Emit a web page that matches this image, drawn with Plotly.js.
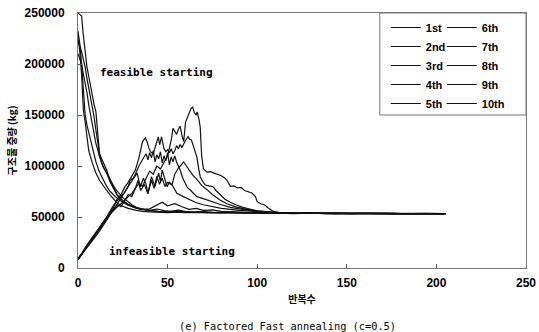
<!DOCTYPE html>
<html>
<head>
<meta charset="utf-8">
<script src="https://cdn.plot.ly/plotly-3.0.1.min.js"></script>
<style>html,body{margin:0;padding:0;background:#fff;}#chart{width:539px;height:332px;}</style>
</head>
<body>
<div id="chart"></div>
<script>
// ---- data ----
const seriesNames = ['1st','2nd','3rd','4th','5th','6th','7th','8th','9th','10th'];

// feasible starting runs
const x1st = [0,1,2,3,4,5,6,8,10,12,14,16,18,20,22,25,28,32,36,40,45,50,55,60,66,72,80,88,96,104,112,120,130,140,150,160,170,180,190,200,205];
const y1st = [227000,212000,190000,155000,143000,130000,115000,103000,93000,86000,80500,76000,71500,67000,63500,60500,58500,56800,55500,55000,54600,54300,54800,54200,54500,53900,54200,53800,54000,53600,53800,53400,53700,53300,53600,53400,53200,53500,53300,53400,53300];

const x2nd = [0,1,2,3,4,5,6,7,8,10,12,14,16,18,20,22,25,28,32,36,40,45,50,55,60,65,70,78,86,94,102,110,118,126,134,142,150,158,166,174,182,190,198,205];
const y2nd = [232000,220000,200000,170000,150000,140000,133000,126000,117000,104000,94000,87000,80000,75000,71000,68000,64500,61500,59000,57500,56300,55500,55000,56000,55200,54600,54900,54200,54500,53900,54100,53600,53900,53500,53700,53300,53600,53200,53500,53300,53600,53200,53400,53300];

const x3rd = [0,2,3,4,5,6,7,8,9,10,11,12,13,14,16,18,20,22,25,28,32,36,40,45,50,56,62,68,75,82,90,98,106,114,122,130,138,146,154,162,170,178,186,194,205];
const y3rd = [250000,247000,228000,210000,197000,188000,178000,168000,160000,153000,128000,112000,104000,99000,93000,84000,77500,71000,66000,62500,59500,57500,56200,55300,54800,55400,54600,54900,54300,54600,54000,54300,53800,54000,53500,53800,53300,53600,53400,53700,53200,53500,53300,53500,53300];

const x4th = [0,1,2,3,4,5,6,7,8,9,10,11,12,14,16,18,20,22,25,28,31,35,40,44,48,52,56,60,65,70,76,84,92,100,108,116,124,132,140,148,156,164,172,180,188,196,205];
const y4th = [222000,218000,212000,205000,197000,186000,176000,170000,160000,148000,135000,122000,112000,104000,96000,85000,78000,71500,66000,62000,59500,57500,56500,57800,56200,55500,56800,55300,54800,55200,54400,54700,54100,54300,53700,54000,53500,53800,53300,53600,53200,53500,53400,53600,53200,53400,53300];

const x5th = [0,1,2,3,4,5,6,7,8,9,10,11,12,14,16,18,20,22,25,28,30,33,36,40,44,47,50,54,58,62,66,70,75,80,88,96,104,112,120,128,136,144,152,160,168,176,184,192,200,205];
const y5th = [210000,205000,200000,190000,182000,172000,160000,150000,142000,132000,122000,116000,109000,100000,93000,86000,80000,75000,69000,65000,62000,59000,57500,58000,62000,64500,61000,63000,60000,57500,58500,56500,57000,55500,55000,54400,54700,54000,54200,53600,53900,53400,53700,53300,53500,53200,53500,53300,53400,53300];

// infeasible starting runs
const x6th = [0,2,4,6,8,10,12,14,16,18,20,22,24,26,28,30,32,34,36,38,40,42,44,46,48,50,52,53,54,55,56,57,58,59,60,61,62,63,64,65,66,66.5,67.5,68.2,69,70,72,74,76,78,80,82,83,85,87,89,91,93,95,97,99,100,102,104,106,109,112,116,120,128,136,144,152,160,168,176,184,192,200,205];
const y6th = [8000,13500,19000,24000,29500,34000,39000,44000,49500,55000,58000,62000,60000,66000,72000,70000,78000,83000,80000,88000,95000,92000,100000,97000,104000,110000,125000,137000,134000,131000,136000,139000,130000,124000,143000,148000,152000,156000,158000,152000,150000,153000,146000,138000,110000,97000,94000,94500,93000,92000,90500,88000,86500,80000,80500,78500,79000,76000,74500,73500,70000,65000,63000,62000,59000,55500,54500,54000,53700,54000,53500,53800,53300,53600,53200,53500,53300,53400,53300,53400];

const x7th = [0,2,4,6,8,10,12,14,16,18,20,22,24,26,28,30,32,34,35,36,37.6,38.5,39.5,40.4,42,43,44.8,45.6,46.6,48,49,50,51,52,53,54,55,56,57,58,59,60,61.4,62.3,63.3,64.5,66.3,67.3,68.2,69.5,71,73,75.4,77,79.3,82,85,88,92,96,100,105,110,116,124,132,140,148,156,164,172,180,188,196,205];
const y7th = [8000,13000,19000,24000,29000,33500,38000,43000,48000,54000,60000,68000,72000,79000,84000,90000,96000,108000,118000,124000,127500,124000,118000,114000,112000,118000,128500,121000,128500,117000,114000,116000,113000,117000,112000,115000,120000,117000,121000,118000,122000,125000,128700,126000,125500,118000,109000,98000,89500,85000,81400,80500,79700,76000,71600,67500,64500,62000,59500,57500,56000,55000,54200,53900,54100,53600,53800,53300,53600,53200,53500,53300,53500,53200,53300];

const x8th = [0,2,4,6,8,10,12,14,16,18,20,22,24,26,28,30,32,34,36.5,38,39,40,41,42,43,44,45,46,47,48,49,50,51,52,53,54,55,57,58.5,59.8,61,62.6,64.5,66.3,69,72,76,80,85,90,95,100,105,110,117,125,133,141,149,157,165,173,181,189,197,205];
const y8th = [9500,14000,20000,25000,30000,35000,40000,44500,50000,56000,62000,66000,70000,74000,80000,85000,92000,100000,107800,112000,106000,113000,108000,115000,104000,111000,107000,114000,103000,110000,105000,113000,101000,109000,104000,110000,104000,96000,88000,83300,79000,76500,73000,70000,68500,66700,64000,62000,59500,57800,56500,55200,54500,54000,53700,53900,53400,53700,53300,53500,53200,53500,53300,53400,53200,53300];

const x9th = [0,3,6,9,12,15,18,20,22,24,26,28,29.2,31,33,34.8,36.5,38,39,41,43,45,46,47,48,49.7,51,52.5,54,56,57.5,59,60.5,62,64,66.5,69,72,75,79,83,88,94,100,106,112,120,128,136,144,152,160,168,176,184,192,200,205];
const y9th = [8500,15000,22000,29000,36000,44000,52000,58000,63000,68000,74000,80000,86300,88000,93000,79700,88000,82000,73000,89500,80000,93000,85000,96000,90000,79700,84000,81400,92000,98000,101000,104000,100000,96000,91000,86600,81000,76800,72000,67000,63000,60000,57500,56000,55000,54200,53800,54000,53500,53800,53300,53600,53300,53500,53200,53400,53300,53300];

const x10th = [0,3,6,9,12,15,18,20,22,24,26,28,30,32,33.5,35,37,39,41,42.5,44,45.5,47,48.5,50,52.5,55.2,58.8,62.6,66,70,75,80,90,100,110,118,126,134,142,150,158,166,174,182,190,198,205];
const y10th = [9000,16000,23000,30000,37000,45000,53000,57000,60000,63000,66000,70000,73000,78000,86000,76000,82000,73000,86000,78000,90000,82000,88000,80000,84000,81400,73200,70000,66700,64000,62000,60000,58500,56500,55000,54200,53700,54000,53500,53700,53300,53600,53200,53500,53300,53400,53200,53300];

const xTickVals = [0,50,100,150,200,250];
const yTickVals = [0,50000,100000,150000,200000,250000];

// ---- build traces ----
const xs = [x1st,x2nd,x3rd,x4th,x5th,x6th,x7th,x8th,x9th,x10th];
const ys = [y1st,y2nd,y3rd,y4th,y5th,y6th,y7th,y8th,y9th,y10th];
const traces = seriesNames.map((n,i)=>({
  type:'scatter', mode:'lines', name:n, x:xs[i], y:ys[i],
  line:{color:'#111', width:1.2},
  legend: i<5 ? 'legend' : 'legend2',
  hoverinfo:'skip'
}));

const tickFont = {family:'Liberation Sans, Arial, sans-serif', size:12, color:'#000', weight:'bold'};
const legFont = {family:'Liberation Sans, Arial, sans-serif', size:11, color:'#000', weight:'bold'};
const monoFont = {family:'DejaVu Sans Mono, monospace', size:11, color:'#000', weight:'bold'};

const layout = {
  width:539, height:332,
  margin:{l:78, r:13, t:13, b:64},
  paper_bgcolor:'#fff', plot_bgcolor:'#fff',
  showlegend:true,
  xaxis:{range:[0,250], tickvals:xTickVals, ticks:'inside', ticklen:4, tickcolor:'#555',
    showline:true, mirror:true, linecolor:'#777', linewidth:1, showgrid:false, zeroline:false,
    tickfont:tickFont, ticklabelstandoff:4,
    title:{text:'반복수', font:{family:'Noto Sans CJK KR', size:10, color:'#000', weight:'bold'}, standoff:6}},
  yaxis:{range:[0,250000], tickvals:yTickVals, ticks:'inside', ticklen:4, tickcolor:'#555',
    showline:true, mirror:true, linecolor:'#777', linewidth:1, showgrid:false, zeroline:false,
    exponentformat:'none', separatethousands:false, tickformat:'d',
    tickfont:tickFont, ticklabelstandoff:10,
    title:{text:'구조물 중량 (kg)', font:{family:'Noto Sans CJK KR', size:10, color:'#000', weight:'bold'}, standoff:6}},
  legend:{x:0.687, xanchor:'left', y:1.0, yanchor:'top', bgcolor:'rgba(0,0,0,0)', borderwidth:0,
    font:legFont, itemwidth:30, traceorder:'normal'},
  legend2:{x:0.812, xanchor:'left', y:1.0, yanchor:'top', bgcolor:'rgba(0,0,0,0)', borderwidth:0,
    font:legFont, itemwidth:30, traceorder:'normal'},
  shapes:[{type:'rect', xref:'paper', yref:'paper', x0:0.6737, x1:1, y0:0.6, y1:1,
    line:{color:'#777', width:1}, fillcolor:'rgba(0,0,0,0)', layer:'above'}],
  annotations:[
    {text:'feasible starting', x:10.9, y:192000, xref:'x', yref:'y', xanchor:'left', yanchor:'middle', showarrow:false, font:monoFont},
    {text:'infeasible starting', x:16.4, y:15700, xref:'x', yref:'y', xanchor:'left', yanchor:'middle', showarrow:false, font:monoFont},
    {text:'(e) Factored Fast annealing (c=0.5)', x:0.467, y:-0.227, xref:'paper', yref:'paper', xanchor:'center', yanchor:'middle', showarrow:false,
      font:{family:'DejaVu Sans Mono, monospace', size:10.3, color:'#000'}}
  ]
};

Plotly.newPlot('chart', traces, layout, {staticPlot:true, displayModeBar:false});
</script>
</body>
</html>
